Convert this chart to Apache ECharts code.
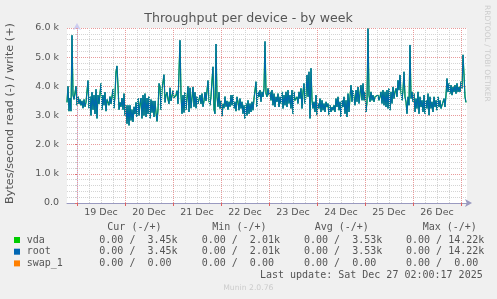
<!DOCTYPE html>
<html><head><meta charset="utf-8">
<script src="https://cdn.jsdelivr.net/npm/echarts@6/dist/echarts.min.js"></script>
<style>html,body{margin:0;padding:0;background:#f0f0f0}#c{width:497px;height:299px}</style>
</head><body><div id="c"></div>
<script>
// time: hours from 19 Dec 00:00; first sample 18 Dec 19:00, 30-min samples
const startHour = -5;
const stepHours = 0.5;
const axisMinHour = -5;
const axisMaxHour = 195;
// write throughput (k bytes/s), vda and root identical
const writeK = [
3.45,4.0,3.15,3.6,3.15,5.75,3.7,3.55,3.6,4.0,
3.35,3.65,3.4,3.55,3.35,3.5,3.25,3.55,3.3,3.45,
3.5,4.2,3.25,3.65,3.0,3.8,3.2,3.7,3.05,3.9,
2.9,3.7,3.4,3.35,4.1,3.2,3.7,3.35,3.8,3.15,
3.55,3.45,3.35,3.65,3.4,3.45,3.9,3.25,3.7,4.5,
4.7,4.0,3.2,3.45,3.3,3.6,3.2,
3.75,3.0,3.35,2.72,3.35,2.66,3.35,2.83,3.2,2.78,
3.3,3.05,3.45,2.95,3.6,3.0,3.4,3.6,2.9,3.7,
3.0,3.75,2.95,3.6,3.05,3.65,2.9,3.55,3.1,3.5,
2.95,3.5,3.1,2.8,3.2,4.1,4.0,3.2,3.9,3.85,
4.4,3.45,3.7,3.8,3.55,3.4,3.95,3.5,3.45,3.85,
3.6,3.55,3.7,3.85,3.4,3.45,
5.58,3.7,3.06,3.7,3.1,3.8,3.2,3.6,4.0,3.12,
3.95,3.25,3.6,3.98,3.3,3.8,3.25,3.65,3.4,3.35,
3.7,3.4,3.75,3.3,3.5,3.8,3.5,3.45,4.2,3.5,
3.35,3.65,4.2,4.67,3.2,3.06,5.45,3.64,3.3,3.8,
3.24,3.5,2.98,3.4,3.25,3.65,3.3,3.5,3.2,3.47,
3.3,3.7,3.35,3.7,3.24,3.47,3.15,3.64,
3.47,3.18,3.58,3.24,3.47,3.06,3.35,2.89,3.41,3.0,
3.52,3.06,3.41,3.12,3.47,3.18,3.58,3.58,4.16,3.29,
3.81,3.64,3.87,3.47,3.81,3.64,3.93,5.54,3.75,3.64,
3.93,3.7,3.81,3.52,3.87,3.35,3.75,3.29,3.64,3.47,
3.75,3.29,3.64,3.41,3.81,3.24,3.7,3.35,3.81,3.29,
3.87,3.41,3.7,3.24,3.87,3.06,3.81,3.52,
3.52,3.64,3.41,3.81,3.58,3.93,3.24,3.81,4.1,3.41,
3.7,4.39,3.64,4.5,2.9,4.62,3.52,3.24,3.47,3.12,
3.7,3.01,3.41,3.24,3.58,3.12,3.52,3.18,3.41,3.12,
3.47,3.29,3.41,3.01,3.35,3.12,3.29,3.18,3.35,3.12,
3.58,3.29,3.64,3.18,3.47,2.95,3.52,3.29,3.64,3.06,
3.52,2.95,3.75,3.12,3.64,4.04,3.47,3.87,
3.64,3.35,3.87,3.47,3.98,3.41,3.75,4.04,3.52,4.1,
3.52,3.81,3.12,3.47,5.98,3.7,3.47,3.81,3.52,3.7,
3.47,3.64,3.7,3.58,3.7,3.52,3.64,3.81,3.41,3.87,
3.35,3.81,3.29,3.87,3.24,3.93,3.18,3.81,3.41,3.98,
3.58,3.81,3.93,3.64,4.21,3.87,4.39,3.81,3.52,3.87,
4.5,3.64,3.47,3.06,3.64,3.35,5.42,3.58,
3.81,3.47,3.75,3.12,3.58,3.24,3.81,3.06,3.64,3.29,
3.52,3.12,3.7,3.06,3.52,3.24,3.75,3.01,3.64,3.24,
3.47,3.12,3.64,3.29,3.52,3.18,3.64,3.29,3.52,3.24,
3.29,3.18,3.58,3.29,3.7,4.27,3.81,4.1,3.75,4.04,
3.7,3.98,3.81,4.04,3.75,4.1,3.81,3.98,3.81,4.16,
3.93,5.08,4.39,3.64,3.45
];
const dayTickHours = [0,24,48,72,96,120,144,168,192];
const dayLabelHours = [12,36,60,84,108,132,156,180];
const dayLabels = ['19 Dec','20 Dec','21 Dec','22 Dec','23 Dec','24 Dec','25 Dec','26 Dec'];
const legendNames = ['vda','root','swap_1'];
const legendColors = ['#00cc00','#0066b3','#ff8000'];
const legendHeaders = ['Cur (-/+)','Min (-/+)','Avg (-/+)','Max (-/+)'];
const legendRows = [
  ['0.00 /  3.45k','0.00 /  2.01k','0.00 /  3.53k','0.00 / 14.22k'],
  ['0.00 /  3.45k','0.00 /  2.01k','0.00 /  3.53k','0.00 / 14.22k'],
  ['0.00 /  0.00','0.00 /  0.00','0.00 /  0.00','0.00 /  0.00']
];
const lastUpdate = 'Last update: Sat Dec 27 02:00:17 2025';

const pts = writeK.map((v,i)=>[startHour + i*stepHours, v]);
const minorHours = [];
for (let h = 6; h < axisMaxHour; h += 6) if (h % 24 !== 0) minorHours.push(h);

const txt = '#555555';
const mono = '10px "DejaVu Sans Mono"';
const headerX = [107.3,212.3,314.7,422.7];
const cellX = [99.3,201.7,304,406];
const rowY = [240,251.7,263.4];
const graphics = [];
graphics.push({type:'text', style:{text:'Throughput per device - by week', x:248.5, y:19, textAlign:'center', textVerticalAlign:'middle', font:'12.6px "DejaVu Sans"', fill:txt}});
graphics.push({type:'text', rotation:Math.PI/2, x:10.5, y:113.5, style:{text:'Bytes/second read (-) / write (+)', x:0, y:0, textAlign:'center', textVerticalAlign:'middle', font:'11.2px "DejaVu Sans"', fill:txt}});
graphics.push({type:'text', rotation:-Math.PI/2, x:487, y:5, style:{text:'RRDTOOL / TOBI OETIKER', x:0, y:0, textAlign:'left', textVerticalAlign:'middle', font:'7.5px "DejaVu Sans"', fill:'#cccccc'}});
legendHeaders.forEach((h,i)=>graphics.push({type:'text', style:{text:h, x:headerX[i], y:227.3, textVerticalAlign:'middle', font:mono, fill:txt}}));
legendNames.forEach((n,r)=>{
  graphics.push({type:'rect', shape:{x:14, y:rowY[r]-3, width:6, height:6}, style:{fill:legendColors[r]}});
  graphics.push({type:'text', style:{text:n, x:26.7, y:rowY[r], textVerticalAlign:'middle', font:mono, fill:txt}});
  legendRows[r].forEach((c,i)=>graphics.push({type:'text', style:{text:c, x:cellX[i], y:rowY[r], textVerticalAlign:'middle', font:mono, fill:txt}}));
});
graphics.push({type:'text', style:{text:lastUpdate, x:482.7, y:275.3, textAlign:'right', textVerticalAlign:'middle', font:mono, fill:txt}});
graphics.push({type:'text', style:{text:'Munin 2.0.76', x:248.3, y:288, textAlign:'center', textVerticalAlign:'middle', font:'7.7px "DejaVu Sans"', fill:'#cccccc'}});

const chart = echarts.init(document.getElementById('c'), null, {renderer:'canvas'});
chart.setOption({
  animation:false,
  backgroundColor:'#f0f0f0',
  grid:{left:67, top:28, width:400, height:175, backgroundColor:'#ffffff', show:true, borderWidth:0},
  xAxis:{type:'value', min:axisMinHour, max:axisMaxHour,
    axisLine:{show:true, lineStyle:{color:'#9a9ac0', width:1}, symbol:['none','arrow'], symbolSize:[6,7], symbolOffset:[0,5]},
    axisTick:{show:true, customValues:dayTickHours, length:3, lineStyle:{color:'#e06060'}},
    axisLabel:{customValues:dayLabelHours, formatter:v=>dayLabels[dayLabelHours.indexOf(v)], color:txt, fontFamily:'DejaVu Sans', fontSize:9.5, margin:5},
    splitLine:{show:false}},
  yAxis:{type:'value', min:0, max:6, interval:1,
    axisLine:{show:true, lineStyle:{color:'#ccccf0', width:1}, symbol:['none','arrow'], symbolSize:[6,7], symbolOffset:[0,5]},
    axisTick:{show:true, length:2, lineStyle:{color:'#e07070'}},
    minorTick:{show:true, splitNumber:5, length:2, lineStyle:{color:'#cccccc'}},
    axisLabel:{formatter:v=>v===0?'0.0':v.toFixed(1)+' k', color:txt, fontFamily:'DejaVu Sans', fontSize:9.5, margin:8},
    splitLine:{show:true, lineStyle:{color:'#e89a9a', type:[1,1], width:1}},
    minorSplitLine:{show:true, lineStyle:{color:'#d4d4d4', type:[1,1], width:1}}},
  series:[
    {type:'line', data:[], z:1, silent:true,
      markLine:{silent:true, symbol:['none','none'], label:{show:false}, animation:false,
        lineStyle:{color:'#d4d4d4', type:[1,1], width:1},
        data:minorHours.map(h=>({xAxis:h}))}},
    {type:'line', data:[], z:1, silent:true,
      markLine:{silent:true, symbol:['none','none'], label:{show:false}, animation:false,
        lineStyle:{color:'#e89a9a', type:[1,1], width:1},
        data:dayTickHours.map(h=>({xAxis:h}))}},
    {name:'vda', type:'line', data:pts, showSymbol:false, z:3, lineStyle:{color:'#00cc00', width:1.25}},
    {name:'root', type:'line', data:pts, showSymbol:false, z:4, lineStyle:{color:'#0066b3', width:1}}
  ],
  graphic:graphics
});
</script></body></html>
